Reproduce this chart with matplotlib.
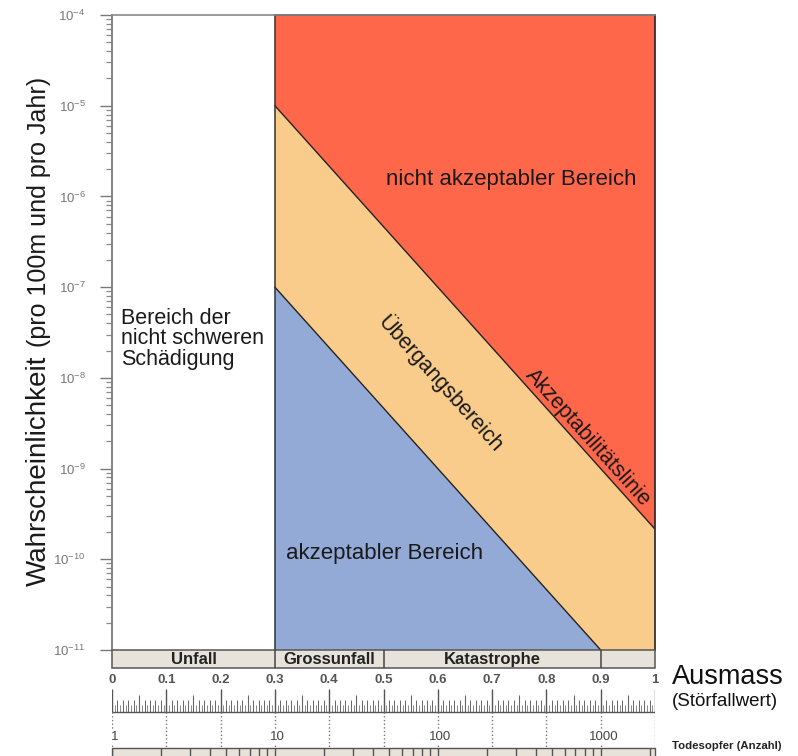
import numpy as np
import matplotlib
matplotlib.use("Agg")
import matplotlib.pyplot as plt
from matplotlib.patches import Rectangle
from matplotlib.ticker import LogLocator, FuncFormatter, NullFormatter

plt.rcParams["font.family"] = ["Liberation Sans", "DejaVu Sans"]
plt.rcParams["mathtext.fontset"] = "custom"
plt.rcParams["mathtext.rm"] = "Liberation Sans"
plt.rcParams["mathtext.it"] = "Liberation Sans:italic"

# ── data ──────────────────────────────────────────────────────────────────────
Y_MIN, Y_MAX = 1e-11, 1e-4
X_SPLIT = 0.3                      # Grenze "nicht schwere Schädigung"
accept_x = [0.3, 1.0]              # Akzeptabilitätslinie
accept_y = [1e-5, 2.15e-10]
lower_x = [0.3, 0.9]               # Grenze akzeptabler Bereich
lower_y = [1e-7, 1e-11]

class_names = ["Unfall", "Grossunfall", "Katastrophe"]
class_centers = [0.15, 0.4, 0.7]
class_dividers = [0.3, 0.5, 0.9]

scale_vals = [0.0, 0.1, 0.2, 0.3, 0.4, 0.5, 0.6, 0.7, 0.8, 0.9, 1.0]
scale_labels = ["0", "0.1", "0.2", "0.3", "0.4", "0.5", "0.6", "0.7", "0.8", "0.9", "1"]

deaths_major = [1, 10, 100, 1000]
deaths_minor = [2, 3, 4, 5, 6, 7, 8, 9, 20, 30, 40, 50, 60, 70, 80, 90,
                200, 300, 400, 500, 600, 700, 800, 900, 2000]
DEATHS_PER_UNIT = 0.3              # Störfallwert pro Dekade Todesopfer

RED, ORANGE, BLUE = "#FF674A", "#F9CC8C", "#93AAD7"
BEIGE = "#E8E3DA"
TXT = "#1a1a1a"

W, H = 798, 756
def fx(px): return px / W
def fy(py): return 1 - py / H

fig = plt.figure(figsize=(W / 100, H / 100), dpi=100)

# ── main chart ────────────────────────────────────────────────────────────────
ax = fig.add_axes([fx(112), fy(650), 543 / W, 635 / H])
ax.set_xlim(0, 1)
ax.set_yscale("log")
ax.set_ylim(Y_MIN, Y_MAX)

ax.fill([X_SPLIT, 1, 1, X_SPLIT], [Y_MAX, Y_MAX, accept_y[1], accept_y[0]],
        color=RED, lw=0)
ax.fill([X_SPLIT, 1, 1, lower_x[1], X_SPLIT],
        [accept_y[0], accept_y[1], Y_MIN, Y_MIN, lower_y[0]], color=ORANGE, lw=0)
ax.fill([X_SPLIT, lower_x[1], X_SPLIT], [lower_y[0], Y_MIN, Y_MIN], color=BLUE, lw=0)

ax.plot(accept_x, accept_y, color="#222", lw=1.0)
ax.plot(lower_x, lower_y, color="#222", lw=1.0)
ax.plot([X_SPLIT, X_SPLIT], [Y_MIN, Y_MAX], color="#333", lw=1.1, clip_on=False)
ax.plot([1, 1], [Y_MIN, Y_MAX], color="#222", lw=1.2, clip_on=False)
ax.plot([X_SPLIT, 1], [Y_MAX, Y_MAX], color="#222", lw=1.2, clip_on=False)

for s in ["right", "bottom"]:
    ax.spines[s].set_visible(False)
ax.spines["left"].set_color("#7a7a7a")
ax.spines["left"].set_linewidth(1.3)
ax.spines["top"].set_color("#8a8a8a")
ax.spines["top"].set_linewidth(1.2)

ax.set_xticks([])
ax.yaxis.set_major_locator(LogLocator(base=10, numticks=20))
ax.yaxis.set_minor_locator(LogLocator(base=10, subs=np.arange(2, 10), numticks=20))
ax.yaxis.set_major_formatter(FuncFormatter(lambda v, p: f"$10^{{{int(round(np.log10(v)))}}}$"))
ax.yaxis.set_minor_formatter(NullFormatter())
ax.tick_params(axis="y", which="major", direction="out", length=9, width=1,
               color="#7a7a7a", labelsize=9.5, labelcolor="#777", pad=10)
ax.tick_params(axis="y", which="minor", direction="out", length=4.5, width=0.9,
               color="#8a8a8a")

# labels inside the chart
fig.text(fx(511), fy(179), "nicht akzeptabler Bereich", fontsize=16,
         color=TXT, ha="center", va="center")
fig.text(fx(385), fy(553), "akzeptabler Bereich", fontsize=16,
         color=TXT, ha="center", va="center")
fig.text(fx(121), fy(339), "Bereich der\nnicht schweren\nSchädigung", fontsize=15.5,
         color=TXT, ha="left", va="center", linespacing=0.97)

p1 = ax.transData.transform((accept_x[0], accept_y[0]))
p2 = ax.transData.transform((accept_x[1], accept_y[1]))
angle = np.degrees(np.arctan2(p2[1] - p1[1], p2[0] - p1[0]))
ax.text(0.605, 10 ** -8.06, "Übergangsbereich", fontsize=15.5, color=TXT,
        rotation=angle, ha="center", va="center", rotation_mode="anchor")
ax.text(0.877, 10 ** -8.66, "Akzeptabilitätslinie", fontsize=15.5, color=TXT,
        rotation=angle, ha="center", va="center", rotation_mode="anchor")

# y label, two sizes
fig.text(fx(46), fy(586), "Wahrscheinlichkeit", fontsize=20, rotation=90,
         rotation_mode="anchor", ha="left", va="baseline", color=TXT)
fig.text(fx(46), fy(347), "(pro 100m und pro Jahr)", fontsize=18, rotation=90,
         rotation_mode="anchor", ha="left", va="baseline", color=TXT)

# ── scales underneath ─────────────────────────────────────────────────────────
bx = fig.add_axes([fx(112), 0, 543 / W, 106 / H])
bx.set_xlim(0, 1)
bx.set_ylim(106, 0)
bx.axis("off")

bx.add_patch(Rectangle((0, 0), 1, 18, fc=BEIGE, ec="#555", lw=1.1, clip_on=False))
bx.vlines(class_dividers, 0, 18, color="#444", lw=1.1)
for name, c in zip(class_names, class_centers):
    bx.text(c, 9.5, name, fontsize=12, fontweight="bold", color="#222",
            ha="center", va="center")

for v, lab in zip(scale_vals, scale_labels):
    bx.text(v, 30, lab, fontsize=9.5, fontweight="bold", color="#555",
            ha="center", va="center")

hundredths = np.arange(0, 101) / 100
fine = np.arange(0, 100) / 100 + 0.005
bx.vlines(fine, 55, 62, color="#777", lw=0.6)
bx.vlines([h for i, h in enumerate(hundredths) if i % 5], 50, 62, color="#666", lw=0.7)
bx.vlines([h for i, h in enumerate(hundredths) if i % 5 == 0 and i % 10], 45, 62,
          color="#666", lw=0.8)
bx.vlines(scale_vals, 39, 62, color="#555", lw=1.0)
bx.hlines(62, 0, 1, color="#555", lw=1.0)
bx.vlines(scale_vals, 62, 97, color="#777", lw=1.0, linestyles=":")

for d in deaths_major:
    bx.text(DEATHS_PER_UNIT * np.log10(d) + 0.005, 87, str(d), fontsize=9.5, color="#444",
            ha="center", va="center",
            bbox=dict(fc="white", ec="none", pad=1.5))

bx.add_patch(Rectangle((0, 98), 1, 12, fc=BEIGE, ec="#555", lw=1.0, clip_on=False))
bx.vlines([DEATHS_PER_UNIT * np.log10(d) for d in deaths_minor + deaths_major],
          98, 106, color="#555", lw=1.0)

# right-hand captions
fig.text(fx(672), fy(677), "Ausmass", fontsize=19.5, color="#111", ha="left", va="center")
fig.text(fx(672), fy(702), "(Störfallwert)", fontsize=13.5, color="#111",
         ha="left", va="center")
fig.text(fx(672), fy(746), "Todesopfer (Anzahl)", fontsize=8.2, fontweight="bold",
         color="#222", ha="left", va="center")

fig.savefig("out.png", dpi=100)
